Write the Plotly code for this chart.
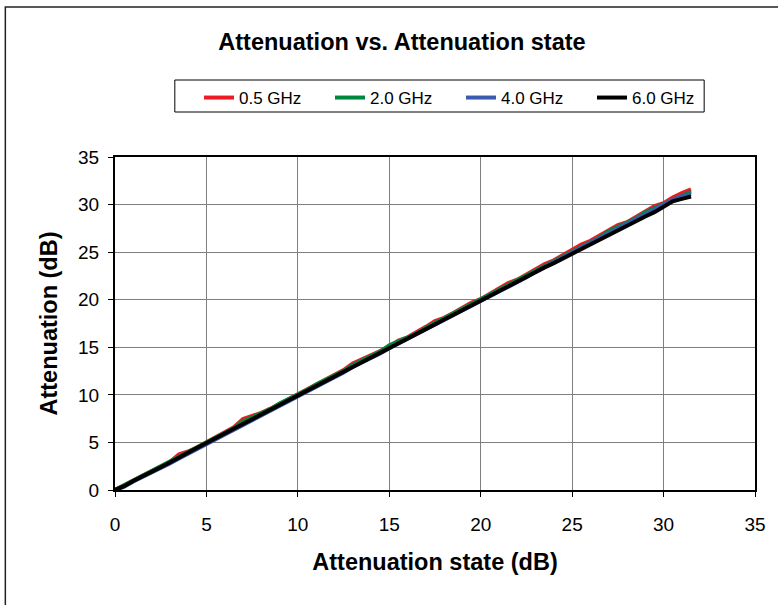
import plotly.graph_objects as go

states = [0, 0.5, 1, 1.5, 2, 2.5, 3, 3.5, 4, 4.5, 5, 5.5, 6, 6.5, 7, 7.5,
          8, 8.5, 9, 9.5, 10, 10.5, 11, 11.5, 12, 12.5, 13, 13.5, 14, 14.5, 15, 15.5,
          16, 16.5, 17, 17.5, 18, 18.5, 19, 19.5, 20, 20.5, 21, 21.5, 22, 22.5, 23, 23.5,
          24, 24.5, 25, 25.5, 26, 26.5, 27, 27.5, 28, 28.5, 29, 29.5, 30, 30.5, 31, 31.5]

att_05 = [0.0, 0.45, 1.0, 1.5, 1.95, 2.45, 2.95, 3.75, 4.05, 4.5, 5.0, 5.55, 6.05, 6.6, 7.45, 7.75,
          8.1, 8.55, 9.05, 9.65, 10.1, 10.55, 11.1, 11.65, 12.1, 12.6, 13.3, 13.7, 14.1, 14.6, 15.1, 15.7,
          16.05, 16.55, 17.15, 17.75, 18.1, 18.6, 19.2, 19.7, 20.05, 20.6, 21.25, 21.75, 22.1, 22.65, 23.2, 23.75,
          24.15, 24.7, 25.3, 25.8, 26.2, 26.75, 27.35, 27.85, 28.15, 28.7, 29.3, 29.85, 30.15, 30.75, 31.2, 31.6]

att_20 = [0.0, 0.5, 1.05, 1.6, 2.0, 2.5, 3.1, 3.55, 4.0, 4.5, 5.05, 5.6, 6.0, 6.5, 7.2, 7.6,
          8.05, 8.5, 9.1, 9.55, 10.0, 10.5, 11.1, 11.6, 12.05, 12.5, 13.15, 13.6, 14.05, 14.55, 15.2, 15.65,
          16.0, 16.45, 17.05, 17.55, 18.0, 18.5, 19.1, 19.55, 20.0, 20.5, 21.1, 21.6, 22.05, 22.5, 23.1, 23.6,
          24.05, 24.5, 25.1, 25.6, 26.05, 26.55, 27.2, 27.65, 28.05, 28.55, 29.2, 29.65, 30.0, 30.55, 31.0, 31.35]

att_40 = [0.0, 0.35, 0.9, 1.35, 1.85, 2.3, 2.8, 3.3, 3.8, 4.3, 4.8, 5.3, 5.8, 6.3, 6.9, 7.35,
          7.85, 8.3, 8.85, 9.3, 9.85, 10.35, 10.9, 11.35, 11.9, 12.35, 12.95, 13.4, 13.9, 14.35, 14.9, 15.4,
          15.85, 16.3, 16.9, 17.35, 17.85, 18.3, 18.9, 19.4, 19.85, 20.35, 20.9, 21.4, 21.9, 22.35, 22.95, 23.45,
          23.9, 24.4, 24.95, 25.45, 25.95, 26.45, 27.0, 27.5, 27.95, 28.45, 29.0, 29.5, 29.9, 30.5, 30.85, 31.1]

att_60 = [0.0, 0.4, 0.95, 1.4, 1.9, 2.4, 2.9, 3.45, 3.9, 4.45, 4.95, 5.45, 5.9, 6.4, 7.0, 7.45,
          7.95, 8.45, 9.0, 9.45, 9.95, 10.45, 11.0, 11.45, 11.95, 12.45, 13.0, 13.45, 14.0, 14.45, 14.95, 15.45,
          15.95, 16.45, 16.95, 17.45, 17.9, 18.4, 18.95, 19.45, 19.9, 20.4, 20.95, 21.45, 21.9, 22.4, 22.9, 23.4,
          23.85, 24.35, 24.85, 25.35, 25.85, 26.3, 26.85, 27.3, 27.75, 28.25, 28.75, 29.2, 29.75, 30.35, 30.6, 30.85]

series_names = ["0.5 GHz", "2.0 GHz", "4.0 GHz", "6.0 GHz"]
series_values = [att_05, att_20, att_40, att_60]
series_colors = ["#ED1C24", "#00873E", "#3A5BAE", "#000000"]

tick_vals = [0, 5, 10, 15, 20, 25, 30, 35]

W, H = 778, 605
L, R, T, B = 115, 21, 157, 115
pw, ph = W - L - R, H - T - B

FONT = "Liberation Sans, Arial, sans-serif"

fig = go.Figure()
for name, vals, col in zip(series_names, series_values, series_colors):
    fig.add_trace(go.Scatter(x=states, y=vals, mode="lines", name=name,
                             line=dict(color=col, width=4)))

axis_common = dict(
    range=[0, 35], tickvals=tick_vals, showgrid=True, gridcolor="#7f7f7f", gridwidth=1,
    showline=True, linecolor="black", linewidth=2, mirror=True,
    ticks="outside", ticklen=5, tickcolor="black", tickwidth=1,
    tickfont=dict(family=FONT, size=19, color="black"), zeroline=False,
)

fig.update_layout(
    width=W, height=H,
    margin=dict(l=L, r=R, t=T, b=B),
    paper_bgcolor="white", plot_bgcolor="white",
    font=dict(family=FONT, color="black"),
    title=dict(text="<b>Attenuation vs. Attenuation state</b>",
               x=402 / W, xref="container", xanchor="center",
               y=1 - 42 / H, yref="container", yanchor="middle",
               font=dict(family=FONT, size=23.5, color="black")),
    xaxis=dict(axis_common,
               title=dict(text="<b>Attenuation state (dB)</b>", standoff=20,
                          font=dict(family=FONT, size=23.5, color="black")),
               ticklabelstandoff=11),
    yaxis=dict(axis_common,
               title=dict(text="<b>Attenuation (dB)</b>", standoff=14,
                          font=dict(family=FONT, size=23.5, color="black")),
               ticklabelstandoff=5),
    legend=dict(orientation="h", xref="container", yref="container",
                x=199 / W, y=1 - 80 / H, xanchor="left", yanchor="top",
                borderwidth=0, bgcolor="rgba(0,0,0,0)",
                font=dict(family=FONT, size=17, color="black"),
                entrywidth=86, entrywidthmode="pixels",
                itemwidth=30, tracegroupgap=0),
    showlegend=True,
)

# legend frame
fig.add_shape(type="rect", xref="paper", yref="paper",
              x0=(175 - L) / pw, x1=(706 - L) / pw,
              y0=(T + ph - 112) / ph, y1=(T + ph - 80) / ph,
              line=dict(color="black", width=1), layer="above")

# outer chart frame (left and top edges visible; extends past right/bottom)
fig.add_shape(type="rect", xref="paper", yref="paper",
              x0=(5 - L) / pw, x1=(W + 40 - L) / pw,
              y0=-(H + 40 - T - ph) / ph, y1=(T + ph - 7) / ph,
              line=dict(color="#222222", width=1.5), layer="below")

fig.write_html("out.html", config={"displayModeBar": False},
               post_script="document.body.style.margin='0px';")
